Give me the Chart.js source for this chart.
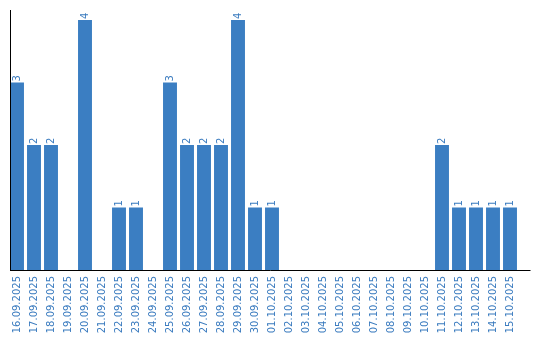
<!DOCTYPE html>
<html>
<head>
<meta charset="UTF-8">
<script src="https://cdn.jsdelivr.net/npm/chart.js"></script>
<style>
    body { margin: 0; background: #fff; }
    #wrap { width: 540px; height: 340px; }
</style>
</head>
<body>
<div id="wrap"><canvas id="chart"></canvas></div>
<script>
    const labels = [
        '16.09.2025', '17.09.2025', '18.09.2025', '19.09.2025', '20.09.2025',
        '21.09.2025', '22.09.2025', '23.09.2025', '24.09.2025', '25.09.2025',
        '26.09.2025', '27.09.2025', '28.09.2025', '29.09.2025', '30.09.2025',
        '01.10.2025', '02.10.2025', '03.10.2025', '04.10.2025', '05.10.2025',
        '06.10.2025', '07.10.2025', '08.10.2025', '09.10.2025', '10.10.2025',
        '11.10.2025', '12.10.2025', '13.10.2025', '14.10.2025', '15.10.2025'
    ];
    const counts = [3, 2, 2, 0, 4, 0, 1, 1, 0, 3, 2, 2, 2, 4, 1, 1, 0, 0, 0, 0, 0, 0, 0, 0, 0, 2, 1, 1, 1, 1];

    const blue = '#3b7ec2';
    const textBlue = '#3a7bbf';

    // value labels above bars, rotated
    const valueLabels = {
        id: 'valueLabels',
        afterDatasetsDraw(chart) {
            const ctx = chart.ctx;
            const meta = chart.getDatasetMeta(0);
            ctx.save();
            ctx.font = '10px "DejaVu Sans"';
            ctx.fillStyle = textBlue;
            ctx.textAlign = 'left';
            ctx.textBaseline = 'middle';
            meta.data.forEach((bar, i) => {
                if (!counts[i]) return;
                ctx.save();
                ctx.translate(bar.x, bar.y - 1);
                ctx.rotate(-Math.PI / 2);
                ctx.fillText(String(counts[i]), 0, 0);
                ctx.restore();
            });
            ctx.restore();
        }
    };

    // axis lines
    const axisLines = {
        id: 'axisLines',
        afterDraw(chart) {
            const a = chart.chartArea;
            const ctx = chart.ctx;
            ctx.save();
            ctx.strokeStyle = '#000';
            ctx.lineWidth = 1;
            ctx.beginPath();
            ctx.moveTo(a.left + 2, a.top);
            ctx.lineTo(a.left + 2, a.bottom);
            ctx.moveTo(a.left + 1.5, a.bottom + 0.5);
            ctx.lineTo(a.right + 12, a.bottom + 0.5);
            ctx.stroke();
            ctx.restore();
        }
    };

    new Chart(document.getElementById('chart'), {
        type: 'bar',
        data: {
            labels: labels,
            datasets: [{
                data: counts,
                backgroundColor: blue,
                borderWidth: 0,
                categoryPercentage: 1,
                barPercentage: 0.82
            }]
        },
        options: {
            responsive: true,
            maintainAspectRatio: false,
            animation: false,
            layout: { padding: { left: 8.5, top: 10, right: 21.5, bottom: 0 } },
            plugins: {
                legend: { display: false },
                tooltip: { enabled: false }
            },
            scales: {
                x: {
                    grid: { display: false, drawTicks: false },
                    border: { display: false },
                    ticks: {
                        color: textBlue,
                        font: { family: 'DejaVu Sans', size: 10 },
                        minRotation: 90,
                        maxRotation: 90,
                        autoSkip: false,
                        padding: 6
                    },
                    afterFit(scale) { scale.height = 70; }
                },
                y: {
                    display: false,
                    min: 0,
                    max: 4.16
                }
            }
        },
        plugins: [valueLabels, axisLines]
    });
</script>
</body>
</html>
